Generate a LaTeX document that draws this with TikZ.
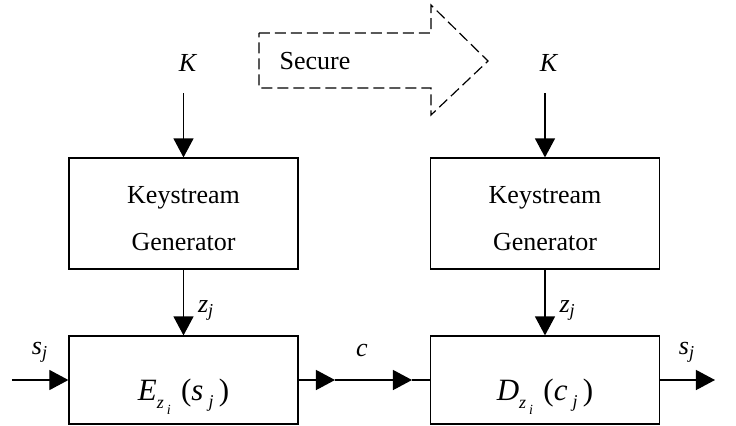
\documentclass[tikz,border=0pt]{standalone}
\usepackage{amsmath}
\usepackage{fontspec}
\setmainfont{Liberation Serif}
\usepackage{tikz}
\usetikzlibrary{arrows.meta, positioning, calc}

\begin{document}
\begin{tikzpicture}[x=0.5pt, y=-0.5pt,
        box/.style={draw, line width=0.6pt, minimum width=114.5pt, inner sep=0pt, align=center},
        lbl/.style={font=\fontsize{13}{15}\selectfont, inner sep=1pt},
        arr/.style={-{Triangle[length=9.5pt, width=10pt]}, line width=0.6pt}]

    \useasboundingbox (0,0) rectangle (736,425);

    % --- SECURE CHANNEL (dashed block arrow) ---
    \draw[line width=0.6pt, dash pattern=on 5.5pt off 2.5pt] (259,33) -- (431,33) -- (431,5) -- (488,61) -- (431,115) -- (431,88) -- (259,88) -- cycle;
    \node[font=\fontsize{13}{15}\selectfont] (secure) at (315,61) {Secure};

    % --- KEYSTREAM GENERATORS ---
    \node[box, minimum height=55.5pt, font=\fontsize{13}{23.5}\selectfont] (kgl) at (183.5,213.5) {\raisebox{-2.5pt}[\height][\depth]{\shortstack{Keystream\\[9pt]Generator}}};
    \node[box, minimum height=55.5pt, font=\fontsize{13}{23.5}\selectfont] (kgr) at (545,213.5) {\raisebox{-2.5pt}[\height][\depth]{\shortstack{Keystream\\[9pt]Generator}}};

    \node[lbl] (kl) at (188,63) {\textit{K}};
    \node[lbl] (kr) at (549,63) {\textit{K}};
    \coordinate (kls) at (183.5,93);
    \coordinate (krs) at (545,93);
    \draw[arr] (kls) -- (kgl.north);
    \draw[arr] (krs) -- (kgr.north);

    % --- ENCRYPTION / DECRYPTION ---
    \node[box, minimum height=44pt, font=\fontsize{15.5}{17}\selectfont] (enc) at (183.5,380) {\raisebox{-8.5pt}[\height][\depth]{\textit{E}\raisebox{-4pt}{\fontsize{9}{10}\selectfont\textit{z}\,\raisebox{-3pt}{\fontsize{7}{8}\selectfont\textit{i}}}\,\,(\textit{s}\,\raisebox{-3.5pt}{\fontsize{9}{10}\selectfont\textit{j}}\,)}};
    \node[box, minimum height=44pt, font=\fontsize{15.5}{17}\selectfont] (dec) at (545,380) {\raisebox{-8.5pt}[\height][\depth]{\textit{D}\raisebox{-4pt}{\fontsize{9}{10}\selectfont\textit{z}\,\raisebox{-3pt}{\fontsize{7}{8}\selectfont\textit{i}}}\,\,(\textit{c}\,\raisebox{-3.5pt}{\fontsize{9}{10}\selectfont\textit{j}}\,)}};

    \draw[arr] (kgl) -- (enc) node[lbl, pos=0.62, right=6pt] {$\textit{z}_{\textit{j}}$};
    \draw[arr] (kgr) -- (dec) node[lbl, pos=0.62, right=6pt] {$\textit{z}_{\textit{j}}$};

    % input, channel and output
    \coordinate (sin) at (12,380);
    \coordinate (c1) at (335,380);
    \coordinate (c2) at (412,380);
    \coordinate (sout) at (715,380);
    \draw[arr] (sin) -- (enc);
    \draw[arr] (enc) -- (c1);
    \draw[arr] (c1) -- (c2);
    \draw[line width=0.6pt] (c2) -- (dec);
    \draw[arr] (dec) -- (sout);

    \node[lbl] (sinl) at (40,352) {$\textit{s}_{\textit{j}}$};
    \node[lbl] (cl) at (362,350) {\textit{c}};
    \node[lbl] (soutl) at (687,352) {$\textit{s}_{\textit{j}}$};

\end{tikzpicture}
\end{document}
